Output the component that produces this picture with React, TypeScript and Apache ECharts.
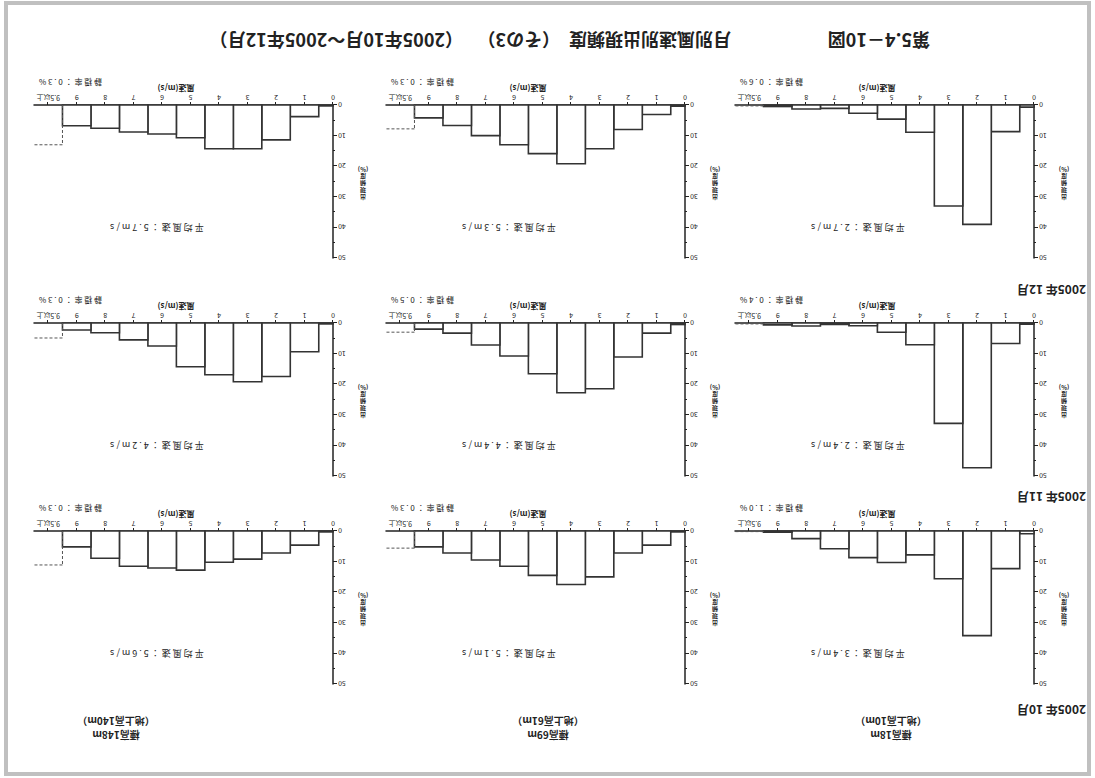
import React, { useEffect, useRef } from "react";
import * as echarts from "echarts";

// ---- data ----
const title1 = "第5.4－10図";
const title2 = "月別風速別出現頻度";
const title3 = "（その3）";
const title4 = "（2005年10月～2005年12月）";
const siteHeights = ["標高18m", "標高69m", "標高148m"];
const groundHeights = ["（地上高10m）", "（地上高61m）", "（地上高140m）"];
const monthLabels = ["2005年 10月", "2005年 11月", "2005年 12月"];
const xTickValues = [0, 1, 2, 3, 4, 5, 6, 7, 8, 9, 10];
const xTickLabels = ["0", "1", "2", "3", "4", "5", "6", "7", "8", "9", "9.5以上"];
const binEdges = [0, 0.5, 1.5, 2.5, 3.5, 4.5, 5.5, 6.5, 7.5, 8.5, 9.5, 10.5];
const yAxisNameChars = ["出", "現", "頻", "度", "(%)"];
const xAxisName = "風速(m/s)";

// frequencies: [calm, 1, 2, ..., 9, 9.5以上]  (%)
const freq18mOct = [0.9, 12.3, 34.2, 15.6, 7.8, 10.3, 8.7, 5.8, 2.5, 0.4, 0.2];
const freq18mNov = [0.4, 6.7, 47.3, 32.8, 7.1, 3.0, 0.9, 0.5, 1.0, 0.6, 0.3];
const freq18mDec = [0.7, 8.7, 39.0, 33.0, 8.9, 4.6, 2.7, 1.1, 1.3, 0.5, 0.3];
const freq69mOct = [0.3, 4.6, 7.2, 15.0, 17.5, 14.5, 11.5, 9.5, 7.2, 5.2, 5.6];
const freq69mNov = [0.5, 3.3, 11.1, 21.5, 22.8, 16.6, 10.8, 7.2, 3.3, 2.0, 3.0];
const freq69mDec = [0.4, 3.1, 8.0, 14.3, 19.2, 15.9, 13.0, 10.0, 6.7, 4.2, 7.8];
const freq148mOct = [0.3, 4.6, 7.2, 9.2, 10.2, 12.8, 12.1, 11.5, 8.9, 5.2, 11.1];
const freq148mNov = [0.3, 9.4, 17.5, 19.2, 16.9, 14.3, 7.5, 5.5, 3.2, 2.3, 4.9];
const freq148mDec = [0.3, 3.8, 11.4, 14.3, 14.3, 10.7, 9.5, 8.8, 7.6, 6.8, 13.0];

const mean18m = ["3.4", "2.4", "2.7"];
const mean69m = ["5.1", "4.4", "5.3"];
const mean148m = ["5.6", "4.2", "5.7"];
const calm18m = ["1.0", "0.4", "0.6"];
const calm69m = ["0.3", "0.5", "0.3"];
const calm148m = ["0.3", "0.3", "0.3"];

const freqTable = [
  [freq18mOct, freq18mNov, freq18mDec],
  [freq69mOct, freq69mNov, freq69mDec],
  [freq148mOct, freq148mNov, freq148mDec],
];
const meanTable = [mean18m, mean69m, mean148m];
const calmTable = [calm18m, calm69m, calm148m];

// ---- layout ----
const W = 1095;
const H = 778;
const colLeft = [61, 410, 762];
const rowTop = [94, 302, 520];
const plotW = 299;
const plotH = 153;
const headerX = [204, 547, 979];
const FONT = "'Noto Sans CJK JP', sans-serif";
const INK = "#222";

const spaced = (s: string) => s.split("").join(" ");

function buildOption() {
  const grid: any[] = [];
  const xAxis: any[] = [];
  const yAxis: any[] = [];
  const series: any[] = [];
  const graphic: any[] = [];

  // border
  graphic.push({
    type: "rect",
    shape: { x: 6, y: 4, width: W - 12, height: H - 7 },
    style: { fill: "none", stroke: "#c0c0c0", lineWidth: 4 },
    silent: true,
  });

  // title
  const titleStyle = { font: `bold 18px ${FONT}`, fill: INK, textVerticalAlign: "middle" };
  const titleParts = [
    { t: title1, x: 165 },
    { t: title2, x: 364 },
    { t: title3, x: 535 },
    { t: title4, x: 632 },
  ];
  titleParts.forEach((p) =>
    graphic.push({ type: "text", x: p.x, y: 737, style: { ...titleStyle, text: p.t, textAlign: "left" } })
  );

  // column headers
  for (let c = 0; c < 3; c++) {
    graphic.push({
      type: "text", x: headerX[c], y: 43,
      style: { text: siteHeights[c], font: `bold 10px ${FONT}`, fill: INK, textAlign: "center", textVerticalAlign: "middle" },
    });
    graphic.push({
      type: "text", x: headerX[c], y: 57,
      style: { text: groundHeights[c], font: `bold 10px ${FONT}`, fill: INK, textAlign: "center", textVerticalAlign: "middle" },
    });
  }
  // row labels
  const rowLabelY = [68, 281, 488];
  for (let r = 0; r < 3; r++) {
    graphic.push({
      type: "text", x: 9, y: rowLabelY[r],
      style: { text: monthLabels[r], font: `bold 12px ${FONT}`, fill: INK, textAlign: "left", textVerticalAlign: "middle" },
    });
  }

  let idx = 0;
  for (let c = 0; c < 3; c++) {
    for (let r = 0; r < 3; r++) {
      const left = colLeft[c];
      const top = rowTop[r];
      const bottom = top + plotH;
      const f = freqTable[c][r];
      grid.push({ left, top, width: plotW, height: plotH });
      xAxis.push({
        gridIndex: idx, type: "value", min: 0, max: 10.5,
        axisLine: { lineStyle: { color: INK, width: 1.5 } },
        axisTick: { customValues: xTickValues, length: 3, lineStyle: { color: INK } },
        axisLabel: {
          customValues: xTickValues, fontSize: 7, margin: 4, color: INK, fontFamily: FONT,
          formatter: (v: number) => xTickLabels[xTickValues.indexOf(v)] ?? "",
        },
        splitLine: { show: false },
      });
      yAxis.push({
        gridIndex: idx, type: "value", min: 0, max: 50, interval: 10,
        axisLine: { show: true, lineStyle: { color: INK, width: 1.5 } },
        axisTick: { show: true, length: 4, lineStyle: { color: INK } },
        minorTick: { show: true, splitNumber: 2, length: 2, lineStyle: { color: INK } },
        axisLabel: { fontSize: 7, margin: 5, color: INK, fontFamily: FONT },
        splitLine: { show: false },
      });
      const barData = f.slice(0, 10).map((v, k) => [binEdges[k], binEdges[k + 1], v]);
      series.push({
        type: "custom", xAxisIndex: idx, yAxisIndex: idx,
        data: barData, encode: { x: [0, 1], y: 2 },
        renderItem: (_p: any, api: any) => {
          const a = api.coord([api.value(0), 0]);
          const b = api.coord([api.value(1), api.value(2)]);
          return {
            type: "rect",
            shape: { x: a[0], y: b[1], width: b[0] - a[0], height: a[1] - b[1] },
            style: { fill: "#fff", stroke: "#333", lineWidth: 1.6 },
          };
        },
      });
      series.push({
        type: "custom", xAxisIndex: idx, yAxisIndex: idx,
        data: [[binEdges[10], binEdges[11], f[10]]], encode: { x: [0, 1], y: 2 },
        renderItem: (_p: any, api: any) => {
          const a = api.coord([api.value(0), 0]);
          const b = api.coord([api.value(0), api.value(2)]);
          const d = api.coord([api.value(1), api.value(2)]);
          const st = { stroke: "#555", lineWidth: 1, lineDash: [3, 2], fill: "none" };
          return {
            type: "group",
            children: [
              { type: "line", shape: { x1: a[0], y1: a[1], x2: b[0], y2: b[1] }, style: st },
              { type: "line", shape: { x1: b[0], y1: b[1], x2: d[0], y2: d[1] }, style: st },
            ],
          };
        },
      });
      // panel texts
      graphic.push({
        type: "text", x: left + 176, y: top + 31,
        style: { text: spaced(`平均風速：${meanTable[c][r]}m/s`), font: `9px ${FONT}`, fill: INK, textAlign: "center", textVerticalAlign: "middle" },
      });
      graphic.push({
        type: "text", x: left + 294, y: bottom + 23,
        style: { text: spaced(`静穏率：${calmTable[c][r]}%`), font: `8px ${FONT}`, fill: INK, textAlign: "right", textVerticalAlign: "middle" },
      });
      graphic.push({
        type: "text", x: left + 157, y: bottom + 17,
        style: { text: xAxisName, font: `bold 8px ${FONT}`, fill: INK, textAlign: "center", textVerticalAlign: "middle" },
      });
      yAxisNameChars.forEach((ch, k) => {
        graphic.push({
          type: "text", x: left - 30, y: top + 61 + k * 7,
          style: {
            text: ch, font: `bold 6px ${FONT}`, fill: INK,
            textAlign: "center", textVerticalAlign: "middle",
          },
        });
      });
      idx++;
    }
  }

  return { animation: false, backgroundColor: "#fff", grid, xAxis, yAxis, series, graphic };
}

export default function App() {
  const ref = useRef<HTMLDivElement>(null);
  useEffect(() => {
    const chart = echarts.init(ref.current!, null, { renderer: "svg", width: W, height: H });
    chart.setOption(buildOption());
    return () => chart.dispose();
  }, []);
  return (
    <div style={{ position: "absolute", left: 0, top: 0, width: W, height: H, transform: "rotate(180deg)", background: "#fff" }}>
      <div ref={ref} style={{ width: W, height: H }} />
    </div>
  );
}
